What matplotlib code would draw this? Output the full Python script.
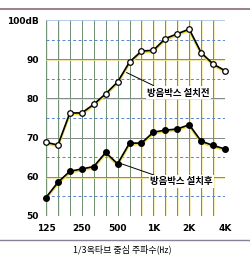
import matplotlib.pyplot as plt
from matplotlib.lines import Line2D

plt.rcParams['font.family'] = ['Noto Sans CJK KR', 'DejaVu Sans']

freqs = ["125", "160", "200", "250", "315", "400", "500", "630", "800",
         "1K", "1.25K", "1.6K", "2K", "2.5K", "3.15K", "4K"]
before = [68.8, 68.1, 76.3, 76.3, 78.5, 81.2, 84.2, 89.3, 92.1, 92.3,
          95.3, 96.5, 97.7, 91.7, 88.8, 87.1]
after = [54.7, 58.6, 61.4, 62.0, 62.6, 66.2, 63.3, 68.6, 68.6, 71.4,
         71.9, 72.2, 73.3, 69.1, 68.0, 67.1]
xtick_idx = [0, 3, 6, 9, 12, 15]
xtick_labels = ["125", "250", "500", "1K", "2K", "4K"]
yticks = [50, 60, 70, 80, 90, 100]
ytick_labels = ["50", "60", "70", "80", "90", "100dB"]

fig = plt.figure(figsize=(2.5, 2.58), dpi=100)
ax = fig.add_axes([0.184, 0.163, 0.716, 0.759])
x = list(range(len(freqs)))

# grid
for i in x:
    ax.axvline(i + 0.05, color="#f0e8a0", lw=0.5, zorder=1)
    ax.axvline(i, color="#6f8f72", lw=0.7, zorder=1)
for v in [60, 70, 80, 90]:
    ax.axhline(v - 0.2, color="#eee290", lw=0.5, zorder=1)
    ax.axhline(v, color="#7f8a88", lw=0.7, zorder=1)
for v in [55, 65, 75, 85, 95]:
    ax.axhline(v, color="#5a84d0", lw=0.7, ls=(0, (3, 2.5)), zorder=1)
ax.axhline(100, color="#a8c4e4", lw=1.2, zorder=1)

# curves
ax.plot(x, [b - 0.3 for b in before], color="#eadc50", lw=1.8, zorder=2, clip_on=False)
ax.plot(x, before, color="black", lw=1.2, marker="o", ms=4.0,
        mfc="white", mec="black", mew=0.9, zorder=3, clip_on=False)
ax.plot(x, [a - 0.3 for a in after], color="#eadc50", lw=1.8, zorder=2, clip_on=False)
ax.plot(x, after, color="black", lw=1.2, marker="o", ms=4.0,
        mfc="black", mec="black", zorder=3, clip_on=False)

# labels with leaders
box = dict(boxstyle="square,pad=0.15", fc="white", ec="none")
ax.plot([6.76, 9.0], [86.6, 83.3], color="black", lw=0.7, zorder=2)
ax.text(8.47, 81.5, "방음박스 설치전", fontsize=6.8, fontweight="bold",
        ha="left", va="center", bbox=box, zorder=4)
ax.plot([6.15, 9.0], [63.5, 60.5], color="black", lw=0.7, zorder=2)
ax.text(8.72, 58.8, "방음박스 설치후", fontsize=6.8, fontweight="bold",
        ha="left", va="center", bbox=box, zorder=4)

ax.set_xlim(0, 15)
ax.set_ylim(50, 100)
ax.set_xticks(xtick_idx)
ax.set_xticklabels(xtick_labels, fontsize=6.5, fontweight="bold", family="DejaVu Sans")
ax.set_yticks(yticks)
ax.set_yticklabels(ytick_labels, fontsize=6.5, fontweight="bold", family="DejaVu Sans")
ax.tick_params(axis="x", length=0, pad=6)
ax.tick_params(axis="y", length=0, pad=5)
for s in ax.spines.values():
    s.set_visible(False)

fig.text(0.49, 0.035, "1/3옥타브 중심 주파수(㎐)", fontsize=6.5, ha="center", va="center")
fig.add_artist(Line2D([0, 1], [0.965, 0.965], color="#8a6a72", lw=1.2))
fig.add_artist(Line2D([0, 1], [0.07, 0.07], color="#8a8098", lw=1.0))

fig.savefig("out.png", dpi=100)
